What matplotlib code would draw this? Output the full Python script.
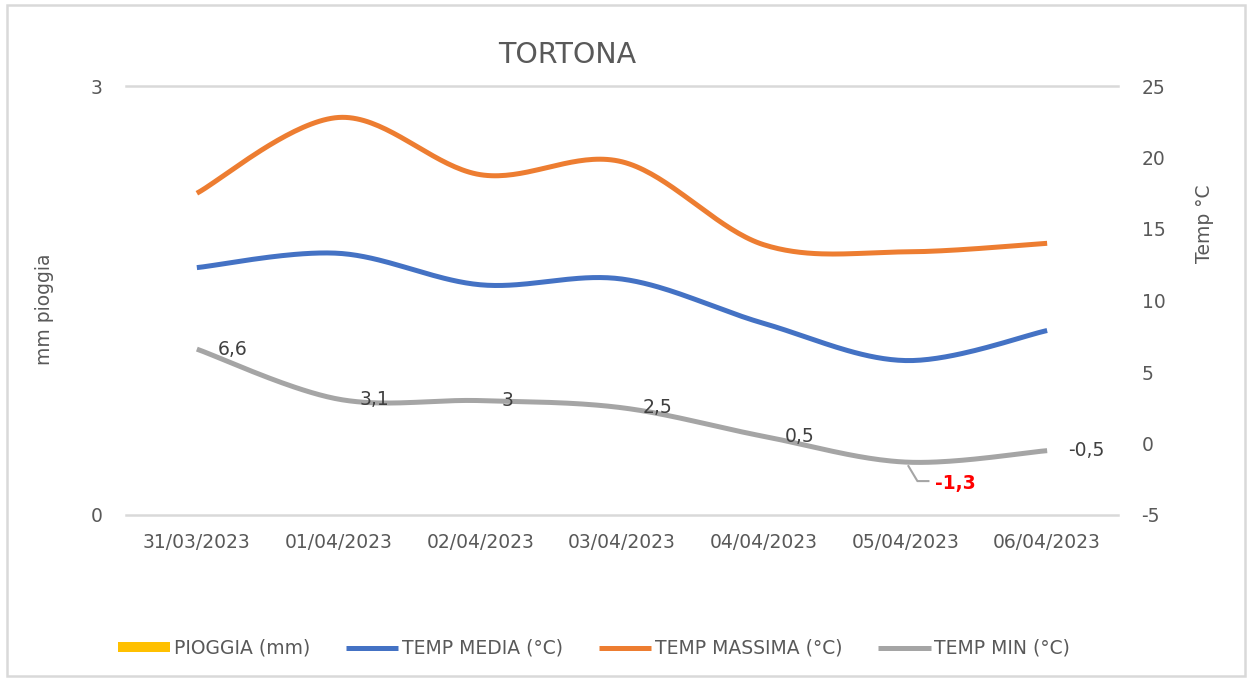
import numpy as np
import matplotlib
matplotlib.use("Agg")
import matplotlib.pyplot as plt
from matplotlib.lines import Line2D
from matplotlib.patches import Rectangle
from matplotlib.transforms import IdentityTransform

# ---------------- data ----------------
dates = ["31/03/2023", "01/04/2023", "02/04/2023", "03/04/2023",
         "04/04/2023", "05/04/2023", "06/04/2023"]
pioggia = [0, 0, 0, 0, 0, 0, 0]
temp_media = [12.3, 13.3, 11.1, 11.5, 8.4, 5.8, 7.9]
temp_max = [17.5, 22.8, 18.8, 19.7, 13.9, 13.4, 14.0]
temp_min = [6.6, 3.1, 3.0, 2.5, 0.5, -1.3, -0.5]
min_labels = ["6,6", "3,1", "3", "2,5", "0,5", "-1,3", "-0,5"]

TXT = "#595959"
FONT = "DejaVu Sans"
plt.rcParams["font.family"] = [FONT]
plt.rcParams["axes.unicode_minus"] = False


def smooth(xs, ys, n=40):
    """Excel-like smoothed line (Catmull-Rom Bezier)."""
    P = np.column_stack([xs, ys]).astype(float)
    Pe = np.vstack([P[0], P, P[-1]])
    out = []
    t = np.linspace(0, 1, n)[:, None]
    for i in range(len(P) - 1):
        p0, p1, p2, p3 = Pe[i], Pe[i + 1], Pe[i + 2], Pe[i + 3]
        c1 = p1 + (p2 - p0) / 6
        c2 = p2 - (p3 - p1) / 6
        seg = ((1 - t) ** 3) * p1 + 3 * ((1 - t) ** 2) * t * c1 + 3 * (1 - t) * t ** 2 * c2 + t ** 3 * p2
        out.append(seg if i == 0 else seg[1:])
    s = np.vstack(out)
    return s[:, 0], s[:, 1]


W, H = 1247, 680
fig = plt.figure(figsize=(W / 100, H / 100), dpi=100)
fig.patch.set_facecolor("white")

L, R, T, B = 126, 1118, 86, 515
ax = fig.add_axes([L / W, 1 - B / H, (R - L) / W, (B - T) / H])
ax2 = ax.twinx()

x = np.arange(len(dates))

# rain bars (left axis)
bars = ax.bar(x, pioggia, width=0.5, color="#FFC000", linewidth=0, label="PIOGGIA (mm)")
ax.set_ylim(0, 3)
ax.set_yticks([0, 3])
ax.set_yticklabels(["0", "3"])
ax.yaxis.grid(True, color="#D9D9D9", lw=1.8)
for gl in ax.get_ygridlines():
    gl.set_clip_on(False)
ax.set_axisbelow(True)
ax.set_xlim(-0.5, len(dates) - 0.5)
ax.set_xticks(x)
ax.set_xticklabels(dates)

# temperature lines (right axis)
lines = []
for vals, col, lab in [(temp_media, "#4472C4", "TEMP MEDIA (°C)"),
                       (temp_max, "#ED7D31", "TEMP MASSIMA (°C)"),
                       (temp_min, "#A5A5A5", "TEMP MIN (°C)")]:
    sx, sy = smooth(x, vals)
    ln, = ax2.plot(sx, sy, color=col, lw=3.6, solid_capstyle="butt", label=lab)
    lines.append(ln)
ax2.set_ylim(-5, 25)
ax2.set_yticks(np.arange(-5, 26, 5))
ax2.set_xlim(-0.5, len(dates) - 0.5)

for a in (ax, ax2):
    for s in a.spines.values():
        s.set_visible(False)
    a.tick_params(length=0, labelcolor=TXT, labelsize=13.5)
ax.tick_params(axis="y", pad=17)
ax2.tick_params(axis="y", pad=17)
ax.tick_params(axis="x", pad=13)

# data labels for TEMP MIN
for i, (v, lab) in enumerate(zip(temp_min, min_labels)):
    if i == 5:
        continue
    ax2.annotate(lab, xy=(x[i], v), xytext=(21, 0), textcoords="offset pixels",
                 ha="left", va="center", fontsize=13.5, color="#404040")

# highlighted minimum with leader line
i = 5
ax2.annotate(min_labels[i], xy=(x[i], temp_min[i]), xytext=(30, -21), textcoords="offset pixels",
             ha="left", va="center", fontsize=13.5, color="#FF0000", fontweight="bold")
px, py = ax2.transData.transform((x[i], temp_min[i]))
fig.add_artist(Line2D([px + 3, px + 12, px + 23], [py - 4, py - 19, py - 19],
                      transform=IdentityTransform(), color="#A5A5A5", lw=1.5))

# axis titles
fig.text(44 / W, 1 - 309 / H, "mm pioggia", rotation=90, ha="center", va="center",
         fontsize=13.5, color=TXT)
fig.text(1204 / W, 1 - 224 / H, "Temp °C", rotation=90, ha="center", va="center",
         fontsize=13.5, color=TXT)

# title
fig.text(567 / W, 1 - 55 / H, "TORTONA", ha="center", va="center", fontsize=20.5, color=TXT)

# legend
fig.legend([bars] + lines, ["PIOGGIA (mm)", "TEMP MEDIA (°C)", "TEMP MASSIMA (°C)", "TEMP MIN (°C)"],
           loc="center", bbox_to_anchor=(594 / W, 1 - 648 / H), ncol=4, frameon=False,
           fontsize=13.5, labelcolor=TXT, handlelength=2.8, handleheight=0.5,
           handletextpad=0.2, columnspacing=1.9)

# chart border
fig.add_artist(Rectangle((7 / W, 1 - 676 / H), (1245 - 7) / W, (676 - 5) / H,
                         transform=fig.transFigure, fill=False, edgecolor="#D9D9D9", lw=1.8))

fig.savefig("out.png", dpi=100)
